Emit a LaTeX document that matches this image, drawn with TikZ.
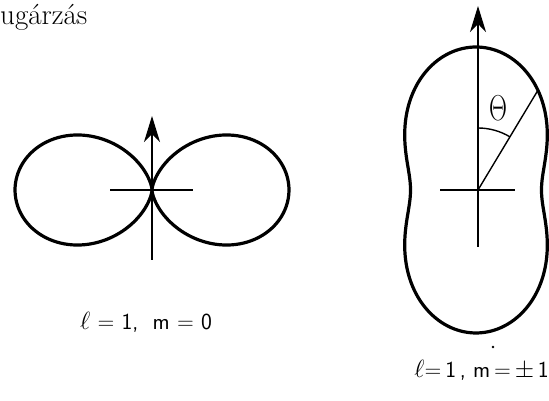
\documentclass[tikz,border=0pt]{standalone}
\usepackage{fontspec}
\usetikzlibrary{arrows.meta,calc}
\tikzset{
  lobe/.style={
    line width=3.2pt,
    line join=round
  },
  axis/.style={
    line width=1.4pt
  },
  pointer/.style={
    line width=1.4pt,
    -{Stealth[length=26pt,width=16pt,inset=8pt]}
  },
  caption/.style={
    font=\fontsize{23}{23}\selectfont\sffamily,
    inner sep=0pt
  },
}
\begin{document}
\begin{tikzpicture}[x=1pt,y=1pt]
    \useasboundingbox (0,0) rectangle (549,401);

    \node[anchor=base west, inner sep=0pt, font=\fontsize{29}{29}\selectfont] (title) at (0,376) {ugárzás};

    % l=1, m=0
    \coordinate (oA) at (152,211);
    \coordinate (botA) at (152,141);
    \coordinate (topA) at (152,285);
    \coordinate (leftA) at (110,211);
    \coordinate (rightA) at (193,211);
    \draw[lobe, shift={(oA)}] plot[domain=0:360, samples=240, smooth]
        ({137*sin(\x)^3}, {143*sin(\x)^2*cos(\x)}) -- cycle;
    \draw[axis] (leftA) -- (rightA);
    \draw[pointer] (botA) -- (topA);
    \node[caption] (capA) at (146,79) {$\ell$ = 1,\ \ m = 0};

    % l=1, m=+-1
    \coordinate (oB) at (478,211);
    \coordinate (botB) at (478,154);
    \coordinate (topB) at (478,395);
    \coordinate (leftB) at (440,211);
    \coordinate (rightB) at (515,211);
    \coordinate (rimB) at ($(oB)+(59:116)$);
    \draw[lobe, shift={(476,211)}] plot[domain=0:360, samples=240, smooth]
        ({65.5*(1+cos(\x)^2)*sin(\x)}, {71.5*(1+cos(\x)^2)*cos(\x)}) -- cycle;
    \draw[axis] (leftB) -- (rightB);
    \draw[pointer] (botB) -- (topB);
    \draw[axis] (oB) -- (rimB);
    \draw[axis] ($(oB)+(90:62)$) arc[start angle=90, end angle=59, radius=62];
    \node[font=\fontsize{28}{28}\selectfont, yscale=1.45] (theta) at (498,293) {$\Theta$};
    \fill (493,54) circle (1.4pt);
    \node[caption, anchor=east] (capB) at (549,31) {$\ell$=\,1\,,\ m\,=\,$\pm$\,1};
\end{tikzpicture}
\end{document}
